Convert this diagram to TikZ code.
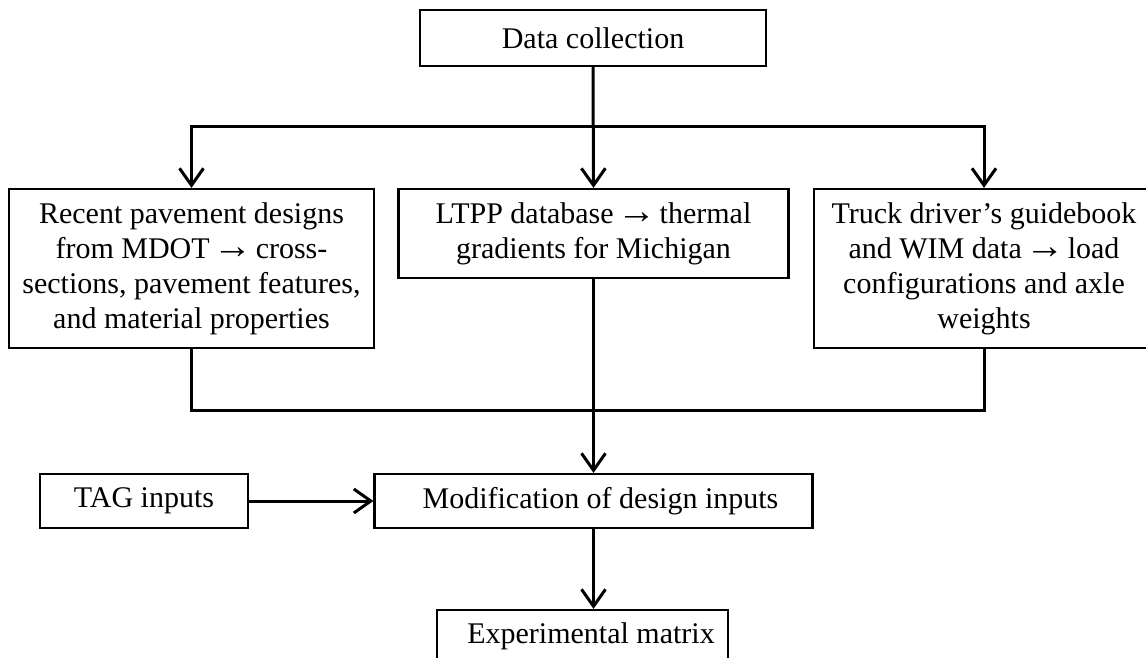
\documentclass[tikz,border=0pt]{standalone}
\usepackage{fontspec}
\usepackage{graphicx}
\setmainfont{Liberation Serif}
\usetikzlibrary{arrows.meta}

% text arrow used inside the boxes
\newcommand{\yields}{\hspace{-4pt}\scalebox{1.3}[1.25]{\textrightarrow}\hspace{-4pt}}

\tikzset{
  box/.style={draw, line width=2.2pt, align=center, inner sep=0pt,
    font=\fontsize{30}{35}\selectfont},
  link/.style={line width=3pt, line join=miter},
  arrowlink/.style={link, -{Straight Barb[length=17pt,width=24pt,line width=3pt]}},
}

\begin{document}
\begin{tikzpicture}[x=1pt,y=-1pt]
  \useasboundingbox (0,0) rectangle (1146,658);
  \clip (0,0) rectangle (1146,658);

  % boxes
  \node[box, minimum width=346pt, minimum height=56pt] (collect) at (593,38) {Data collection};

  \node[box, minimum width=365pt, minimum height=159pt] (designs) at (191.5,268.5)
    {Recent pavement designs\\from MDOT \yields\ cross-\\sections, pavement features,\\and material properties};
  \node[box, minimum width=390pt, minimum height=89pt] (ltpp) at (593.5,233.5)
    {LTPP database \yields\ thermal\\gradients for Michigan};
  \node[box, minimum width=340pt, minimum height=159pt] (truck) at (984,268.5)
    {Truck driver’s guidebook\\and WIM data \yields\ load\\configurations and axle\\weights};

  \node[box, minimum width=208pt, minimum height=54pt] (tag) at (144,501) {TAG inputs};
  \node[box, minimum width=438pt, minimum height=54pt] (modif) at (593.5,501)
    {\hspace*{14pt}Modification of design inputs};
  \node[box, minimum width=291pt, minimum height=52pt] (matrix) at (582.5,636)
    {\hspace*{17pt}Experimental matrix};

  % junctions of the distribution and collection lines
  \coordinate (split) at (593.5,127);
  \coordinate (merge) at (593.5,410);

  % connectors
  \draw[arrowlink] (collect.south) -- (ltpp.north);
  \draw[arrowlink] (split) -| (designs.north);
  \draw[arrowlink] (split) -| (truck.north);
  \draw[link] (designs.south) |- (merge) -| (truck.south);
  \draw[arrowlink] (ltpp.south) -- (modif.north);
  \draw[arrowlink] (tag.east) -- (modif.west);
  \draw[arrowlink] (modif.south) -- (modif.south |- matrix.north);
\end{tikzpicture}
\end{document}
